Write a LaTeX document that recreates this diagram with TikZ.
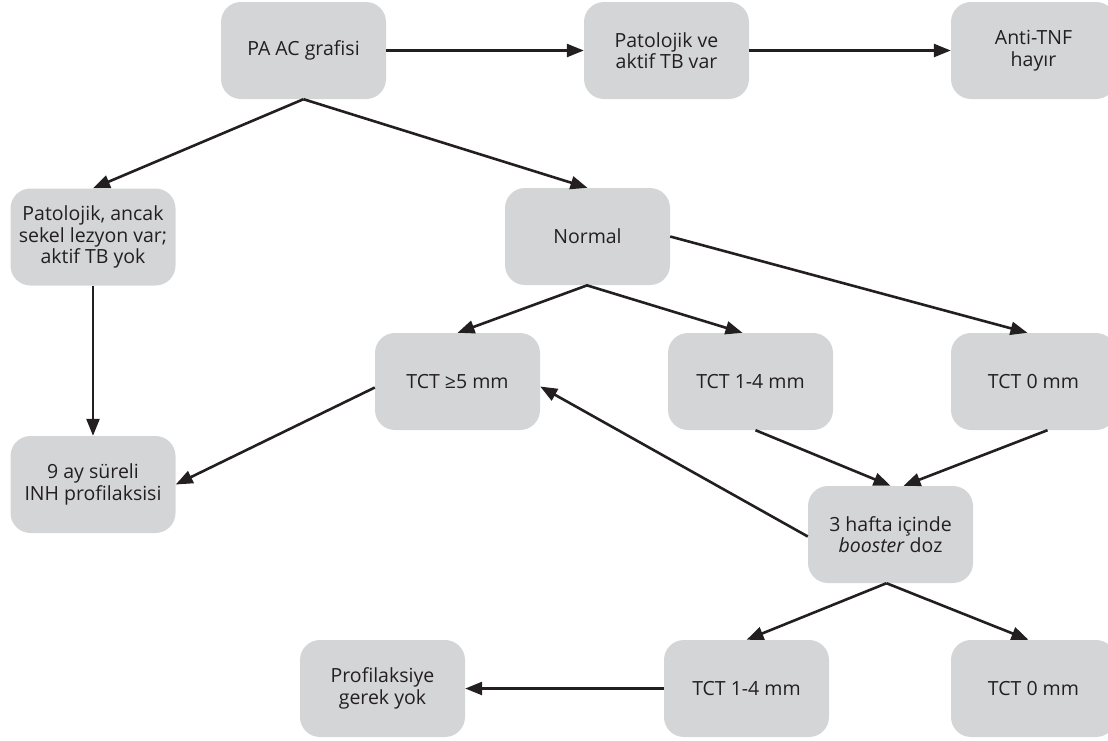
\documentclass[tikz,border=0pt]{standalone}
\usepackage{fontspec}
\setmainfont{Open Sans}
\usetikzlibrary{arrows.meta,calc}
\definecolor{boxgray}{HTML}{D4D5D7}
\definecolor{ink}{HTML}{231F20}
\begin{document}
\begin{tikzpicture}[x=1pt,y=-1pt,
  fbox/.style={rectangle, rounded corners=20pt, fill=boxgray, draw=none,
    minimum width=165pt, minimum height=97pt, inner sep=0pt,
    align=center, text=ink, font=\fontsize{19.5}{21.5}\selectfont},
  conn/.style={draw=ink, line width=2.6pt, -{Triangle[length=17pt,width=13pt]}}]
\useasboundingbox (0,0) rectangle (1108,740);
\node[fbox] (pa)     at (303.5,50.5)  {PA AC grafisi};
\node[fbox] (pv)     at (666.5,50.5)  {Patolojik ve\\aktif TB var};
\node[fbox] (anti)   at (1033.5,50.5) {Anti-TNF\\hayır};
\node[fbox] (pat)    at (93,237)      {Patolojik, ancak\\sekel lezyon var;\\aktif TB yok};
\node[fbox] (normal) at (587.5,236.5) {Normal};
\node[fbox] (tct5)   at (457.5,381.5) {TCT ≥5 mm};
\node[fbox] (tct14)  at (750.5,381.5) {TCT 1-4 mm};
\node[fbox] (tct0)   at (1033.5,381.5){TCT 0 mm};
\node[fbox] (inh)    at (93,484.5)    {9 ay süreli\\INH profilaksisi};
\node[fbox] (boost)  at (890.5,534.5) {3 hafta içinde\\\textit{booster} doz};
\node[fbox] (prof)   at (382.5,688.5) {Profilaksiye\\gerek yok};
\node[fbox] (btct14) at (746.5,688.5) {TCT 1-4 mm};
\node[fbox] (btct0)  at (1033.5,688.5){TCT 0 mm};

\draw[conn] (pa.east) -- (pv.west);
\draw[conn] (pv.east) -- (anti.west);
\draw[conn] (pa.south) -- (pat.north);
\draw[conn] (pa.south) -- (normal.north);
\draw[conn] (pat.south) -- (inh.north);
\draw[conn] (normal.south) -- (tct5.north);
\draw[conn] ($(normal.south)+(-1,0)$) -- ($(tct14.north)+(-8,0)$);
\draw[conn] (normal.east) -- ($(tct0.north)+(-6,0)$);
\draw[conn] ($(tct5.west)+(0,6)$) -- (inh.east);
\draw[conn] ($(tct14.south)+(5,0)$) -- (boost.north);
\draw[conn] ($(tct0.south)+(14,0)$) -- ($(boost.north)+(13,0)$);
\draw[conn] ($(boost.west)+(0,2)$) -- ($(tct5.east)+(0,5)$);
\draw[conn] ($(boost.south)+(-4,0)$) -- (btct14.north);
\draw[conn] ($(boost.south)+(-4,0)$) -- ($(btct0.north)+(-5,0)$);
\draw[conn] (btct14.west) -- (prof.east);
\end{tikzpicture}
\end{document}
